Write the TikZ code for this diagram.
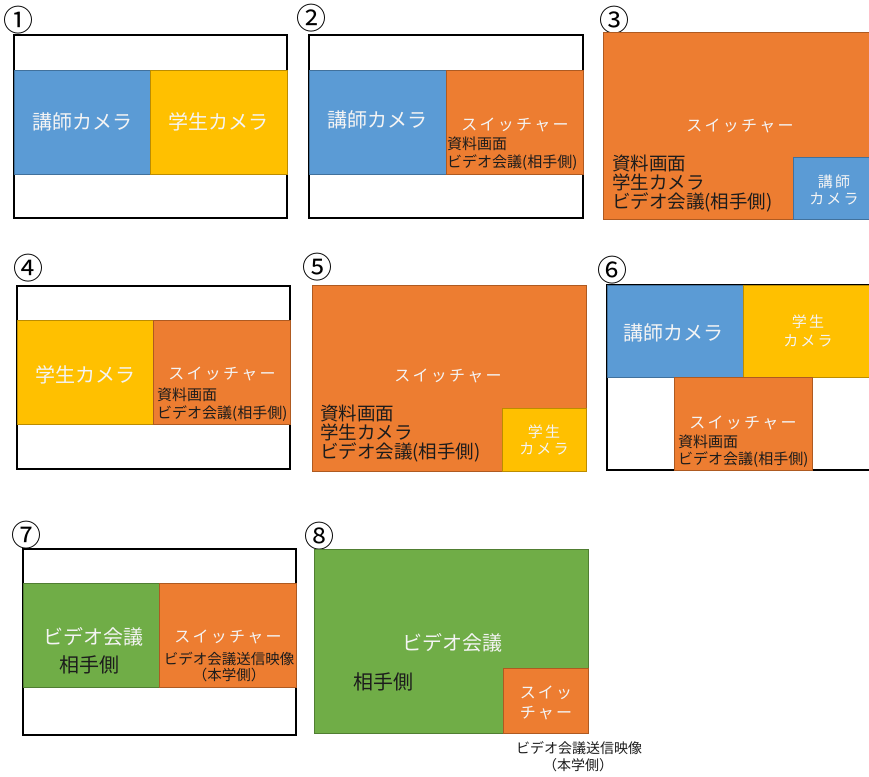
\documentclass[tikz,border=0pt]{standalone}
\usepackage{fontspec}
\setmainfont{Noto Sans CJK JP}
\newfontfamily\jp{Noto Sans CJK JP}
\newfontfamily\jpsp[LetterSpace=14]{Noto Sans CJK JP}
\definecolor{cblue}{HTML}{5B9BD5}
\definecolor{cbluel}{HTML}{41719C}
\definecolor{cyel}{HTML}{FFC000}
\definecolor{cyell}{HTML}{BC8C00}
\definecolor{cora}{HTML}{ED7D31}
\definecolor{coral}{HTML}{AE5A21}
\definecolor{cgr}{HTML}{70AD47}
\definecolor{cgrl}{HTML}{507E32}
\definecolor{ink}{HTML}{1C1C1C}
\definecolor{lt}{HTML}{F4F4F4}
\begin{document}
\begin{tikzpicture}[x=1pt,y=-1pt,
  frm/.style={draw=black, line width=2.4pt, fill=white},
  bblue/.style={draw=cbluel, line width=1pt, fill=cblue},
  byel/.style={draw=cyell, line width=1pt, fill=cyel},
  bora/.style={draw=coral, line width=1pt, fill=cora},
  bgr/.style={draw=cgrl, line width=1pt, fill=cgr},
  num/.style={inner sep=0pt, font=\jp\fontsize{30}{30}\selectfont, text=black},
  big/.style={inner sep=0pt, text=lt, font=\jp\fontsize{20}{20}\selectfont},
  bigd/.style={inner sep=0pt, text=ink, font=\jp\fontsize{18.5}{18.5}\selectfont, anchor=west},
  sw/.style={inner sep=0pt, text=lt, font=\jpsp\fontsize{16}{16}\selectfont},
  sml/.style={inner sep=0pt, text=lt, font=\jpsp\fontsize{15}{15}\selectfont},
  smd/.style={inner sep=0pt, text=ink, font=\jp\fontsize{15}{15}\selectfont, anchor=west},
  tiny/.style={inner sep=0pt, text=ink, font=\jp\fontsize{14}{14}\selectfont}
]
\clip (0,0) rectangle (869,776);
\fill[white] (0,0) rectangle (869,776);

% ---------- panel 1
\node[num] (n1) at (19,20) {①};
\draw[frm] (14,35) rectangle (287,218);
\draw[bblue] (14,70) rectangle (150,174);
\draw[byel] (150,70) rectangle (287,174);
\node[big] (p1a) at (82,122) {講師カメラ};
\node[big] (p1b) at (218,122) {学生カメラ};

% ---------- panel 2
\node[num] (n2) at (311,18) {②};
\draw[frm] (309,35) rectangle (583,218);
\draw[bblue] (309,70) rectangle (446,174);
\draw[bora] (446,70) rectangle (583,174);
\node[big] (p2a) at (377,120) {講師カメラ};
\node[sw] (p2b) at (515,125) {スイッチャー};
\node[smd] (p2c) at (447,144) {資料画面};
\node[smd] (p2d) at (447,163) {ビデオ会議(相手側)};

% ---------- panel 3
\node[num] (n3) at (614,20) {③};
\draw[bora] (603,33) rectangle (880,219);
\draw[bblue] (793,157) rectangle (880,219);
\node[sw] (p3a) at (740,126) {スイッチャー};
\node[bigd] (p3b) at (612,163) {資料画面};
\node[bigd] (p3c) at (612,182.5) {学生カメラ};
\node[bigd] (p3d) at (612,202) {ビデオ会議(相手側)};
\node[sml] (p3e) at (834,182) {講師};
\node[sml] (p3f) at (834,199) {カメラ};

% ---------- panel 4
\node[num] (n4) at (28,268) {④};
\draw[frm] (17,286) rectangle (290,469);
\draw[byel] (17,320) rectangle (153,424);
\draw[bora] (153,320) rectangle (290,424);
\node[big] (p4a) at (85,375) {学生カメラ};
\node[sw] (p4b) at (222,374) {スイッチャー};
\node[smd] (p4c) at (157,395) {資料画面};
\node[smd] (p4d) at (157,414) {ビデオ会議(相手側)};

% ---------- panel 5
\node[num] (n5) at (317,267) {⑤};
\draw[bora] (312,285) rectangle (586,471);
\draw[byel] (502,408) rectangle (586,471);
\node[sw] (p5a) at (448,376) {スイッチャー};
\node[bigd] (p5b) at (320,413) {資料画面};
\node[bigd] (p5c) at (320,432.5) {学生カメラ};
\node[bigd] (p5d) at (320,452) {ビデオ会議(相手側)};
\node[sml] (p5e) at (544,432) {学生};
\node[sml] (p5f) at (544,449) {カメラ};

% ---------- panel 6
\node[num] (n6) at (612,270) {⑥};
\draw[frm] (607,285) rectangle (890,470);
\draw[bblue] (607,285) rectangle (743,377);
\draw[byel] (743,285) rectangle (880,377);
\draw[bora] (674,377) rectangle (812,470);
\node[big] (p6a) at (673,333) {講師カメラ};
\node[sml] (p6b) at (808,322) {学生};
\node[sml] (p6c) at (808,341) {カメラ};
\node[sw] (p6d) at (743,423) {スイッチャー};
\node[smd] (p6e) at (678,442) {資料画面};
\node[smd] (p6f) at (678,460) {ビデオ会議(相手側)};

% ---------- panel 7
\node[num] (n7) at (27,535) {⑦};
\draw[frm] (23,549) rectangle (296,735);
\draw[bgr] (23,583) rectangle (159,687);
\draw[bora] (159,583) rectangle (296,687);
\node[big] (p7a) at (93,637) {ビデオ会議};
\node[big, text=ink] (p7b) at (89,665) {相手側};
\node[sw] (p7c) at (228,637) {スイッチャー};
\node[tiny, font=\jp\fontsize{14.5}{14.5}\selectfont] (p7d) at (229,659) {ビデオ会議送信映像};
\node[tiny, font=\jp\fontsize{14.5}{14.5}\selectfont] (p7e) at (229,675) {（本学側）};

% ---------- panel 8
\node[num] (n8) at (319,536) {⑧};
\draw[bgr] (314,549) rectangle (588,733);
\draw[bora] (503,668) rectangle (588,733);
\node[big] (p8a) at (452,643) {ビデオ会議};
\node[big, text=ink] (p8b) at (383,682) {相手側};
\node[sw] (p8c) at (546,693) {スイッ};
\node[sw] (p8d) at (546,713) {チャー};
\node[tiny] (p8e) at (579,748) {ビデオ会議送信映像};
\node[tiny] (p8f) at (578,765) {（本学側）};
\end{tikzpicture}
\end{document}
